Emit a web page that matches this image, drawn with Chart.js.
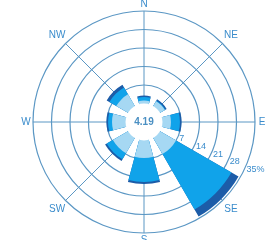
<!DOCTYPE html>
<html><head><meta charset="utf-8">
<script src="https://cdn.jsdelivr.net/npm/chart.js@4/dist/chart.umd.min.js"></script>
<style>html,body{margin:0;padding:0;background:#fff;}#wrap{width:270px;height:240px;}</style>
</head><body><div id="wrap"><canvas id="c" width="270" height="240"></canvas></div>
<script>
const directions = ['N','NE','E','SE','S','SW','W','NW'];
const lightSpeed  = [1.1, 2.1, 3.2, 7.0, 6.6, 6.6, 5.1, 5.1];
const mediumSpeed = [1.4, 0.2, 3.4, 24.2, 9.1, 2.7, 1.5, 3.0];
const highSpeed   = [0.5, 0.6, 0.6, 3.1, 0.8, 0.7, 0.6, 1.2];
const ringTicks = ['7','14','21','28','35%'];
const ringValues = [7,14,21,28,35];
const calmValue = '4.19';

const LIGHT = '#a6d8f3', MEDIUM = '#10a3ea', DARK = '#1c5ca8';
const LINE = '#5b97c4', TEXT = '#3a8ccc';

const cumLight = lightSpeed.slice();
const cumMedium = lightSpeed.map((v,i)=> +(v + mediumSpeed[i]).toFixed(2));
const cumHigh = cumMedium.map((v,i)=> +(v + highSpeed[i]).toFixed(2));

const labels16 = directions.flatMap(d => [d, '']);
const spread = arr => arr.flatMap(v => [v, null]);
const colorFn = c => ctx => (ctx.dataIndex % 2 === 0 ? c : 'rgba(0,0,0,0)');
const angleFn = ctx => (ctx.dataIndex % 2 === 0 ? 30 : 15);

const decor = {
  id: 'decor',
  beforeDatasetsDraw(chart) {
    const s = chart.scales.r, ctx = chart.ctx;
    const R = s.getDistanceFromCenterForValue(35);
    ctx.save();
    ctx.strokeStyle = LINE; ctx.lineWidth = 1;
    for (let k = 0; k < 8; k++) {
      const a = -Math.PI/2 + k*Math.PI/4;
      ctx.beginPath();
      ctx.moveTo(s.xCenter, s.yCenter);
      ctx.lineTo(s.xCenter + R*Math.cos(a), s.yCenter + R*Math.sin(a));
      ctx.stroke();
    }
    ctx.restore();
  },
  afterDatasetsDraw(chart) {
    const s = chart.scales.r, ctx = chart.ctx;
    const cx = s.xCenter, cy = s.yCenter;
    const R = s.getDistanceFromCenterForValue(35);
    const r0 = s.getDistanceFromCenterForValue(0);
    ctx.save();
    ctx.fillStyle = '#fff';
    ctx.beginPath(); ctx.arc(cx, cy, r0, 0, Math.PI*2); ctx.fill();
    ctx.fillStyle = '#4a8fc2';
    ctx.font = 'bold 10px "Liberation Sans Narrow", "Liberation Sans", Arial, sans-serif';
    ctx.textAlign = 'center'; ctx.textBaseline = 'middle';
    ctx.fillText(calmValue, cx, cy);
    // ring labels
    ctx.fillStyle = TEXT;
    ctx.font = '9px "Liberation Sans Narrow", "Liberation Sans", Arial, sans-serif';
    ctx.textAlign = 'left';
    const la = 25*Math.PI/180;
    ringValues.forEach((v,i) => {
      const r = s.getDistanceFromCenterForValue(v) + 2;
      ctx.fillText(ringTicks[i], cx + r*Math.cos(la), cy + r*Math.sin(la));
    });
    // compass labels
    ctx.font = '10px "Liberation Sans", Arial, sans-serif';
    ctx.textAlign = 'center';
    directions.forEach((d,k) => {
      const a = -Math.PI/2 + k*Math.PI/4;
      const r = (k % 2 === 0) ? R + 7 : R + 12;
      ctx.fillText(d, cx + r*Math.cos(a), cy + r*Math.sin(a));
    });
    ctx.restore();
  }
};

new Chart(document.getElementById('c'), {
  type: 'polarArea',
  data: {
    labels: labels16,
    datasets: [
      { label: 'low', data: spread(cumLight), backgroundColor: colorFn(LIGHT), angle: angleFn, borderWidth: 0 },
      { label: 'medium', data: spread(cumMedium), backgroundColor: colorFn(MEDIUM), angle: angleFn, borderWidth: 0 },
      { label: 'high', data: spread(cumHigh), backgroundColor: colorFn(DARK), angle: angleFn, borderWidth: 0 }
    ]
  },
  options: {
    responsive: false,
    animation: false,
    layout: { padding: { left: 33, right: 15, top: 11, bottom: 7 } },
    plugins: { legend: { display: false }, tooltip: { enabled: false } },
    scales: {
      r: {
        min: -7, max: 35, startAngle: -15,
        ticks: { display: false, stepSize: 7 },
        grid: { color: ctx => (ctx.tick && ctx.tick.value > 0 ? LINE : 'rgba(0,0,0,0)'), lineWidth: 1.2 },
        angleLines: { display: false },
        pointLabels: { display: false }
      }
    }
  },
  plugins: [decor]
});
</script>
</body></html>
